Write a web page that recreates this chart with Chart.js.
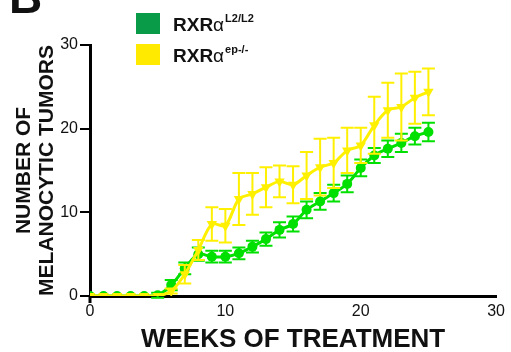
<!DOCTYPE html>
<html>
<head>
<meta charset="utf-8">
<script src="https://cdn.jsdelivr.net/npm/chart.js@4.4.1/dist/chart.umd.min.js"></script>
<style>
  html, body { margin: 0; padding: 0; background: #fff; }
  #wrap { width: 511px; height: 352px; position: relative; }
</style>
</head>
<body>
<div id="wrap"><canvas id="chart"></canvas></div>
<script>
// weeks of treatment
const weeks = [0, 1, 2, 3, 4, 5, 6, 7, 8, 9, 10, 11, 12, 13, 14, 15, 16, 17, 18, 19, 20, 21, 22, 23, 24, 25];

// RXRa L2/L2 (green)
const greenMean = [0, 0, 0, 0, 0, 0.1, 1.3, 3.3, 5.0, 4.7, 4.7, 5.1, 5.9, 6.8, 7.9, 8.6, 10.3, 11.3, 12.3, 13.4, 15.3, 16.8, 17.6, 18.3, 19.1, 19.6];
const greenErr = [0, 0, 0, 0, 0, 0.3, 0.6, 0.7, 0.8, 0.7, 0.7, 0.7, 0.7, 0.8, 0.9, 0.9, 1.0, 1.0, 1.0, 1.0, 1.0, 0.9, 1.0, 1.1, 1.0, 1.1];

// RXRa ep-/- (yellow)
const yellowMean = [0, 0, 0, 0, 0, 0, 0.6, 2.6, 5.5, 8.6, 8.4, 11.6, 12.2, 13.0, 13.7, 13.3, 14.4, 15.4, 15.9, 17.4, 18.0, 20.4, 22.2, 22.6, 23.7, 24.4];
const yellowErr = [0, 0, 0, 0, 0, 0, 0.3, 1.1, 1.2, 2.0, 2.0, 3.1, 2.5, 2.4, 1.9, 2.2, 2.8, 3.4, 3.0, 2.7, 2.1, 3.4, 3.3, 4.0, 3.1, 2.8];

// axis ticks
const xTicks = [0, 10, 20, 30];
const yTicks = [0, 10, 20, 30];

const GREEN = "#00e000";
const YELLOW = "#fff000";

const toPoints = (ys) => weeks.map((w, i) => ({ x: w, y: ys[i] }));

// error bars drawn under each dataset's own line and markers
const errorBars = {
  id: "errorBars",
  beforeDatasetDraw(chart, args) {
    const ds = chart.data.datasets[args.index];
    if (!ds.errors) return;
    const { ctx, scales } = chart;
    ctx.save();
    ctx.strokeStyle = ds.borderColor;
    ctx.lineWidth = 2;
    ds.data.forEach((p, i) => {
      const e = ds.errors[i];
      if (!e) return;
      const x = scales.x.getPixelForValue(p.x);
      const y1 = scales.y.getPixelForValue(p.y + e);
      const y2 = scales.y.getPixelForValue(p.y - e);
      ctx.beginPath();
      ctx.moveTo(x, y1);
      ctx.lineTo(x, y2);
      ctx.moveTo(x - 6.5, y1);
      ctx.lineTo(x + 6.5, y1);
      ctx.moveTo(x - 6.5, y2);
      ctx.lineTo(x + 6.5, y2);
      ctx.stroke();
    });
    ctx.restore();
  },
};

// panel letter, legend with superscripts, little y-axis stub under the origin
const extras = {
  id: "extras",
  beforeDatasetsDraw(chart) {
    const { ctx, chartArea } = chart;
    ctx.save();
    ctx.strokeStyle = "#000";
    ctx.lineWidth = 3;
    ctx.beginPath();
    ctx.moveTo(chartArea.left, chartArea.bottom);
    ctx.lineTo(chartArea.left, chartArea.bottom + 7);
    ctx.stroke();
    ctx.restore();
  },
  afterDraw(chart) {
    const ctx = chart.ctx;
    ctx.save();
    ctx.fillStyle = "#111";
    ctx.textBaseline = "alphabetic";
    ctx.font = "bold 46px 'Liberation Sans', Arial, sans-serif";
    ctx.fillText("B", 9, 13);

    const rows = [
      { color: "#0a9b48", sup: "L2/L2", y: 13 },
      { color: "#ffea00", sup: "ep-/-", y: 44 },
    ];
    rows.forEach((r) => {
      ctx.fillStyle = r.color;
      ctx.fillRect(136, r.y, 24, 21);
      const base = r.y + 18;
      ctx.fillStyle = "#111";
      ctx.font = "bold 19px 'Liberation Sans', Arial, sans-serif";
      ctx.fillText("RXR", 173, base);
      let x = 173 + ctx.measureText("RXR").width;
      ctx.font = "19px 'Liberation Sans', Arial, sans-serif";
      ctx.fillText("\u03b1", x, base);
      x += ctx.measureText("\u03b1").width + 1;
      ctx.font = "bold 11px 'Liberation Sans', Arial, sans-serif";
      ctx.fillText(r.sup, x, base - 9);
    });
    ctx.restore();
  },
};

const ctx = document.getElementById("chart").getContext("2d");
new Chart(ctx, {
  type: "line",
  data: {
    datasets: [
      {
        label: "RXR\u03b1 L2/L2",
        data: toPoints(greenMean),
        errors: greenErr,
        borderColor: GREEN,
        backgroundColor: GREEN,
        borderWidth: 3,
        pointStyle: "circle",
        pointRadius: 5,
        pointBorderWidth: 0,
        tension: 0.3,
        order: 1,
      },
      {
        label: "RXR\u03b1 ep-/-",
        data: toPoints(yellowMean),
        errors: yellowErr,
        borderColor: YELLOW,
        backgroundColor: YELLOW,
        borderWidth: 3,
        pointStyle: "triangle",
        rotation: 180,
        pointRadius: 6,
        pointBorderWidth: 0,
        tension: 0.3,
        order: 0,
      },
    ],
  },
  options: {
    responsive: true,
    maintainAspectRatio: false,
    animation: false,
    layout: { padding: { left: 0, top: 45, right: 14, bottom: 0 } },
    plugins: {
      legend: { display: false },
      tooltip: { enabled: false },
    },
    scales: {
      x: {
        type: "linear",
        min: 0,
        max: 30,
        afterBuildTicks: (s) => { s.ticks = xTicks.map((v) => ({ value: v })); },
        afterFit: (s) => { s.height = 56; },
        grid: { display: false, drawTicks: false },
        border: { display: true, color: "#000", width: 3 },
        ticks: {
          color: "#111",
          padding: 6,
          font: { family: "'Liberation Sans', Arial, sans-serif", size: 16 },
        },
        title: {
          display: true,
          text: "WEEKS OF TREATMENT",
          color: "#111",
          padding: 0,
          font: { family: "'Liberation Sans', Arial, sans-serif", size: 26, weight: "bold", lineHeight: 0.95 },
        },
      },
      y: {
        type: "linear",
        min: 0,
        max: 30,
        afterBuildTicks: (s) => { s.ticks = yTicks.map((v) => ({ value: v })); },
        afterFit: (s) => { s.width = 90; },
        grid: {
          display: true,
          drawOnChartArea: false,
          drawTicks: true,
          tickLength: 10,
          color: "#000",
          lineWidth: 2,
        },
        border: { display: true, color: "#000", width: 3 },
        ticks: {
          color: "#111",
          padding: 2,
          font: { family: "'Liberation Sans', Arial, sans-serif", size: 16 },
        },
        title: {
          display: true,
          text: ["NUMBER OF", "MELANOCYTIC TUMORS"],
          color: "#111",
          padding: { top: 13 },
          font: { family: "'Liberation Sans', Arial, sans-serif", size: 21, weight: "bold", lineHeight: 1.1 },
        },
      },
    },
  },
  plugins: [errorBars, extras],
});
</script>
</body>
</html>
